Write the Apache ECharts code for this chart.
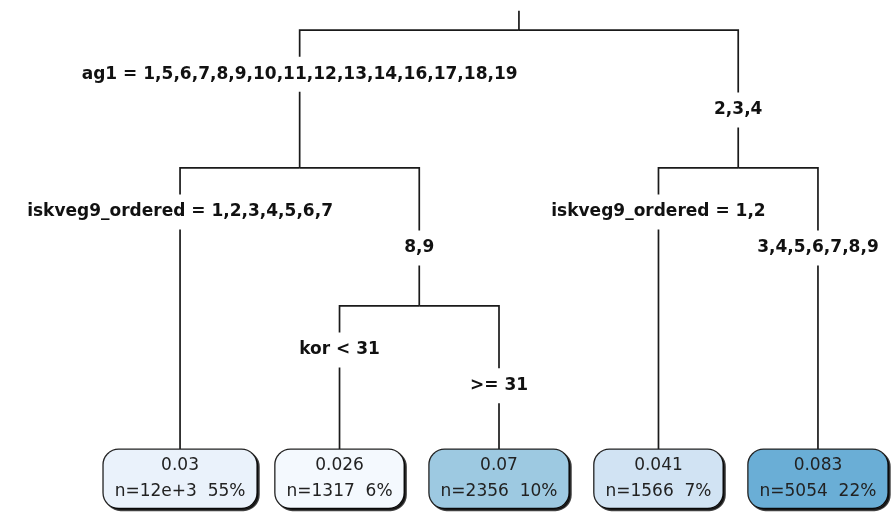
<!DOCTYPE html>
<html>
<head>
<meta charset="utf-8">
<script src="https://cdn.jsdelivr.net/npm/echarts@6/dist/echarts.min.js"></script>
<style>
  html, body { margin: 0; padding: 0; background: #fff; }
  #main { width: 891px; height: 514px; }
</style>
</head>
<body>
<div id="main"></div>
<script>
// tree in rpart numbering: children of node k are 2k and 2k+1
const childIds = [2, 3, 4, 5, 10, 11, 6, 7]
const splitText = [
  'ag1 = 1,5,6,7,8,9,10,11,12,13,14,16,17,18,19',
  '2,3,4',
  'iskveg9_ordered = 1,2,3,4,5,6,7',
  '8,9',
  'kor < 31',
  '>= 31',
  'iskveg9_ordered = 1,2',
  '3,4,5,6,7,8,9'
]
const leafIds = [4, 10, 11, 6, 7]
const leafValue = ['0.03', '0.026', '0.07', '0.041', '0.083']
const leafN = ['12e+3', '1317', '2356', '1566', '5054']
const leafPct = [55, 6, 10, 7, 22]

// box fills (Blues palette by fitted value)
const leafFill = ['#eaf2fb', '#f4f9fe', '#9dc9e1', '#d1e3f3', '#6aaed6']

const LEAF_TOP = 3.2   // leaf boxes sit below the deepest split
const ROOT_TOP = -0.14

// layout: leaves evenly spaced, parents centred over children
const posX = {}
leafIds.forEach((id, i) => { posX[id] = i })
const isLeaf = id => leafIds.indexOf(id) >= 0
const depthOf = id => Math.floor(Math.log2(id))
const xOf = id => {
  if (posX[id] === undefined) posX[id] = (xOf(2 * id) + xOf(2 * id + 1)) / 2
  return posX[id]
}
xOf(1)

// edges
const edgeData = [{ coords: [[xOf(1), ROOT_TOP], [xOf(1), 0]] }]
childIds.forEach(id => {
  const p = Math.floor(id / 2)
  const pd = depthOf(p)
  const end = isLeaf(id) ? LEAF_TOP : depthOf(id)
  edgeData.push({ coords: [[xOf(p), pd], [xOf(id), pd], [xOf(id), end]] })
})

// split labels sit on the child's stem
const splitData = childIds.map((id, i) => {
  const pd = depthOf(Math.floor(id / 2))
  return { value: [xOf(id), pd + (id % 2 === 0 ? 0.32 : 0.58)], name: splitText[i] }
})

const leafData = leafIds.map((id, i) => ({
  value: [xOf(id), LEAF_TOP + 0.055],
  name: leafValue[i] + '\n' + 'n=' + leafN[i] + '  ' + leafPct[i] + '%',
  label: { backgroundColor: leafFill[i] }
}))

const chart = echarts.init(document.getElementById('main'))

const option = {
  animation: false,
  grid: { left: 0, right: 0, top: 0, bottom: 0 },
  xAxis: { type: 'value', min: -1.129, max: 4.458, show: false },
  yAxis: { type: 'value', inverse: true, min: -0.218, max: 3.51, show: false },
  series: [
    {
      type: 'lines',
      coordinateSystem: 'cartesian2d',
      polyline: true,
      silent: true,
      z: 1,
      lineStyle: { color: '#1a1a1a', width: 1.7, opacity: 1 },
      data: edgeData
    },
    {
      type: 'scatter',
      symbolSize: 0,
      silent: true,
      z: 2,
      itemStyle: { opacity: 1 },
      label: {
        show: true,
        position: 'inside',
        formatter: p => p.name,
        fontFamily: 'DejaVu Sans',
        fontWeight: 'bold',
        fontSize: 17,
        color: '#111',
        backgroundColor: '#fff',
        padding: [9, 3]
      },
      data: splitData
    },
    {
      type: 'scatter',
      symbolSize: 0,
      silent: true,
      z: 3,
      itemStyle: { opacity: 1 },
      label: {
        show: true,
        position: 'inside',
        formatter: p => p.name,
        fontFamily: 'DejaVu Sans',
        fontSize: 17,
        lineHeight: 26,
        color: '#222',
        borderColor: '#222',
        borderWidth: 1.3,
        borderRadius: 15,
        padding: [6, 11, 0, 11],
        shadowColor: 'rgba(0,0,0,0.75)',
        shadowOffsetX: 2,
        shadowOffsetY: 2,
        shadowBlur: 0
      },
      data: leafData
    }
  ]
}

chart.setOption(option)
</script>
</body>
</html>
